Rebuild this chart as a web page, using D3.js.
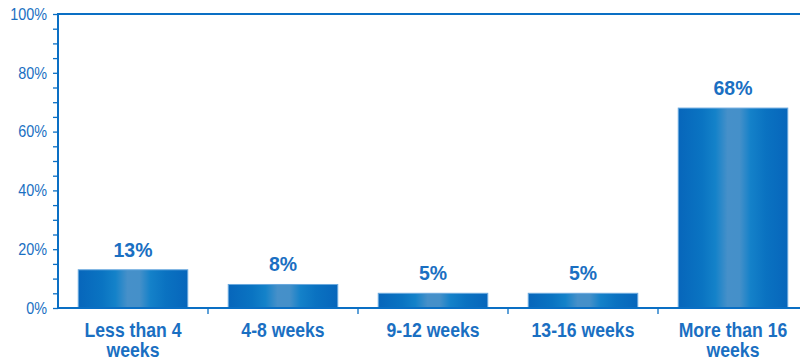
<!DOCTYPE html>
<html>
<head>
<meta charset="utf-8">
<script src="https://cdn.jsdelivr.net/npm/d3@7"></script>
<style>
  html, body { margin: 0; padding: 0; background: #fff; }
  svg { display: block; }
</style>
</head>
<body>
<svg id="chart" width="800" height="359"></svg>
<script>
// Time-to-complete distribution
const categories = [["Less than 4", "weeks"], ["4-8 weeks"], ["9-12 weeks"], ["13-16 weeks"], ["More than 16", "weeks"]];
const values = [13, 8, 5, 5, 68];
const yTicks = [0, 20, 40, 60, 80, 100];
const yMinorTicks = d3.range(0, 101, 5);

const W = 800, H = 359;
const margin = { left: 58, top: 14, bottom: 51 };
const plotRight = 808;
const blue = "#0a6fc4";
const textBlue = "#1a6fc2";
const sans = "'Liberation Sans', Arial, sans-serif";

const svg = d3.select("#chart");

const x = d3.scaleBand()
  .domain(d3.range(categories.length))
  .range([margin.left, plotRight])
  .paddingInner(0.27)
  .paddingOuter(0.135);

const y = d3.scaleLinear().domain([0, 100]).range([H - margin.bottom, margin.top]);

// Horizontal bar shading: dark edges, light centre
const defs = svg.append("defs");
const grad = defs.append("linearGradient").attr("id", "barShade")
  .attr("x1", "0%").attr("x2", "100%").attr("y1", "0%").attr("y2", "0%");
[[0, "#0766bb"], [0.22, "#0a74c2"], [0.34, "#1482c9"], [0.45, "#4690c9"], [0.56, "#4590c9"],
 [0.66, "#1481c9"], [0.8, "#0a72c1"], [1, "#0766bb"]]
  .forEach(([o, c]) => grad.append("stop").attr("offset", o).attr("stop-color", c));

// Bars
svg.append("g").selectAll("rect")
  .data(values)
  .join("rect")
  .attr("x", (d, i) => x(i))
  .attr("y", d => y(d))
  .attr("width", x.bandwidth())
  .attr("height", d => y(0) - y(d))
  .attr("fill", "url(#barShade)")
  .attr("stroke", "#6aa9de")
  .attr("stroke-width", 1);

// Value labels (slightly condensed bold)
svg.append("g").selectAll("text")
  .data(values)
  .join("text")
  .attr("transform", (d, i) => `translate(${x(i) + x.bandwidth() / 2},${y(d) - 13}) scale(0.95,1)`)
  .attr("text-anchor", "middle")
  .attr("fill", textBlue)
  .attr("font-family", sans)
  .attr("font-weight", "bold")
  .attr("font-size", 20.5)
  .text(d => d + "%");

// Frame: top line
svg.append("line")
  .attr("x1", margin.left).attr("x2", W)
  .attr("y1", y(100)).attr("y2", y(100))
  .attr("stroke", blue).attr("stroke-width", 2);

// Y axis
const yAxis = svg.append("g").attr("transform", `translate(${margin.left},0)`);
yAxis.call(d3.axisLeft(y).tickValues(yMinorTicks).tickSize(5).tickFormat(""));
yAxis.selectAll(".tick line").attr("stroke", blue).attr("stroke-width", 1.3);
yAxis.select(".domain").remove();
yAxis.append("line").attr("x1", 0).attr("x2", 0)
  .attr("y1", y(100) - 1).attr("y2", y(0) + 1)
  .attr("stroke", blue).attr("stroke-width", 2);
yAxis.selectAll(".ylab")
  .data(yTicks)
  .join("text")
  .attr("class", "ylab")
  .attr("transform", d => `translate(-11,${y(d) + 5.8}) scale(0.9,1)`)
  .attr("text-anchor", "end")
  .attr("fill", textBlue)
  .attr("font-family", sans)
  .attr("font-size", 16)
  .text(d => d + "%");

// X axis with ticks at category boundaries
const xAxis = svg.append("g").attr("transform", `translate(0,${y(0)})`);
xAxis.append("line")
  .attr("x1", margin.left - 1).attr("x2", W)
  .attr("y1", 0).attr("y2", 0)
  .attr("stroke", blue).attr("stroke-width", 2);
const step = x.step();
xAxis.selectAll(".bound")
  .data(d3.range(1, categories.length))
  .join("line")
  .attr("class", "bound")
  .attr("x1", i => margin.left + i * step)
  .attr("x2", i => margin.left + i * step)
  .attr("y1", 0).attr("y2", 6)
  .attr("stroke", blue).attr("stroke-width", 1.3);

// Category labels (condensed bold, wrapped to two lines where needed)
const catG = svg.append("g");
categories.forEach((lines, i) => {
  lines.forEach((ln, j) => {
    catG.append("text")
      .attr("transform", `translate(${x(i) + x.bandwidth() / 2},${337 + j * 19.5}) scale(0.86,1)`)
      .attr("text-anchor", "middle")
      .attr("fill", textBlue)
      .attr("font-family", sans)
      .attr("font-weight", "bold")
      .attr("font-size", 20.5)
      .text(ln);
  });
});
</script>
</body>
</html>
